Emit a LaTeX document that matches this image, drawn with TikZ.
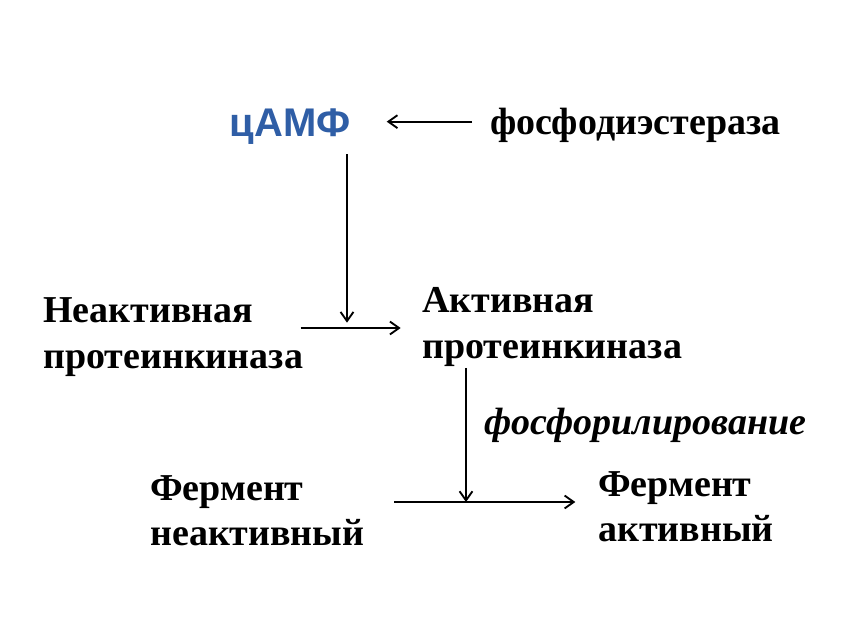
\documentclass[tikz,border=0pt]{standalone}
\usepackage{fontspec}
\setmainfont{Liberation Serif}
\setsansfont{Liberation Sans}
\usetikzlibrary{arrows.meta,positioning}
\definecolor{campblue}{HTML}{2F5EA6}

\begin{document}
\begin{tikzpicture}[
  x=0.75pt, y=-0.75pt,
  lbl/.style={anchor=west, align=left, inner sep=0pt, font=\fontsize{28.5}{34}\selectfont\bfseries},
  itl/.style={anchor=west, inner sep=0pt, font=\fontsize{28.5}{34}\selectfont\bfseries\itshape},
  camp/.style={inner sep=0pt, text=campblue, font=\fontsize{30}{34}\selectfont\sffamily\bfseries},
  arr/.style={-{Straight Barb[length=2.4mm,width=3.4mm]}, line width=1.4pt}
]
\useasboundingbox[fill=white] (0,0) rectangle (854,642);
\node[camp]   (camp)   at (290,127) {цАМФ};
\node[lbl]    (pde)    at (490,125) {фосфодиэстераза};
\node[lbl]    (inact)  at (43,337)  {Неактивная\\протеинкиназа};
\node[lbl]    (act)    at (422,327) {Активная\\протеинкиназа};
\node[itl]    (phos)   at (484,425) {фосфорилирование};
\node[lbl]    (enzin)  at (150,511) {Фермент\\неактивный};
\node[lbl]    (enzact) at (598,507) {Фермент\\активный};
\coordinate (m1) at (347,328);
\coordinate (m2) at (466,502);
\draw[arr, shorten <=13.5pt, shorten >=27pt] ([yshift=4pt]pde.west |- camp.east) -- ([yshift=4pt]camp.east);
\draw[arr, shorten <=7pt, shorten >=4pt] (m1 |- camp.south) -- (m1);
\draw[arr, shorten <=-2pt, shorten >=16pt] (inact.east |- m1) -- (act.west |- m1);
\draw[arr, shorten <=1pt] (m2 |- act.south) -- (m2);
\draw[arr, shorten <=22pt, shorten >=17pt] (enzin.east |- m2) -- (enzact.west |- m2);
\end{tikzpicture}
\end{document}
